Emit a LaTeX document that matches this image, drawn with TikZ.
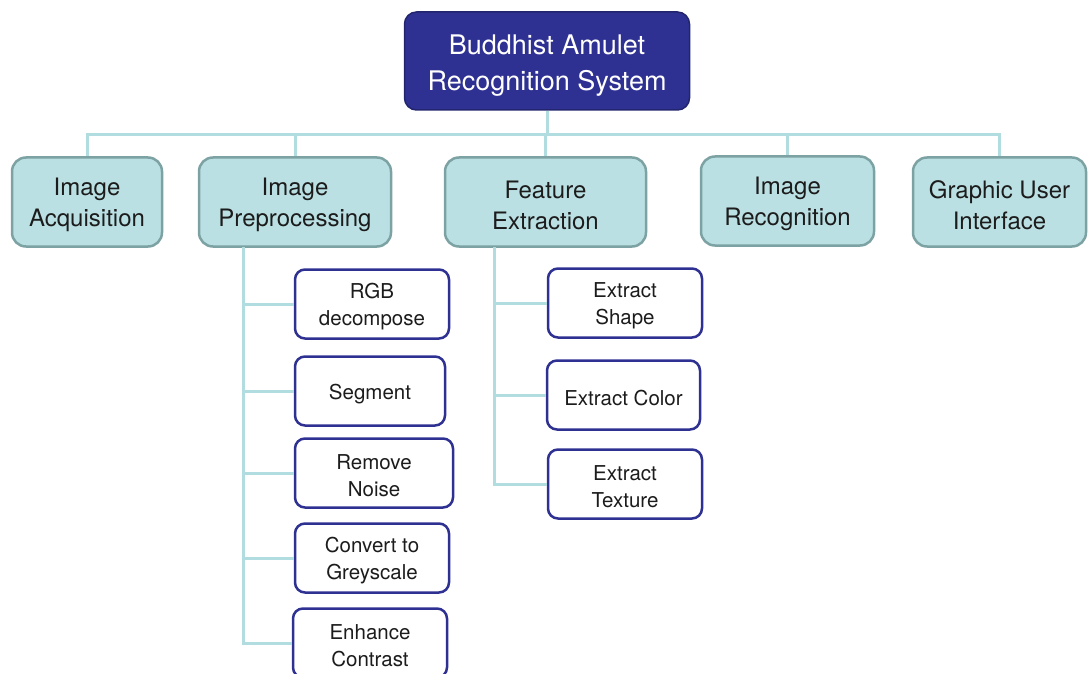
\documentclass[tikz,border=0pt]{standalone}
\usepackage{fontspec}
\setmainfont{TeX Gyre Heros}
\usepackage{tikz}
\usetikzlibrary{positioning}
\definecolor{navy}{RGB}{46, 49, 146}
\definecolor{paleteal}{RGB}{187, 224, 227}
\definecolor{tealedge}{RGB}{124, 162, 164}
\definecolor{linkteal}{RGB}{178, 221, 224}
\definecolor{ink}{RGB}{28, 28, 28}
\tikzset{
    rootbox/.style={rectangle, rounded corners=12pt, minimum width=285pt, minimum height=98pt, align=center, draw=navy!75!black, line width=1.5pt, fill=navy, text=white, font=\fontsize{27}{36}\selectfont, text height=64pt},
    mainbox/.style={rectangle, rounded corners=14pt, minimum height=89pt, align=center, draw=tealedge, line width=2.5pt, fill=paleteal, text=ink, font=\fontsize{24}{31}\selectfont, text height=54.5pt},
    subbox/.style={rectangle, rounded corners=10pt, minimum width=154pt, minimum height=69pt, align=center, draw=navy, line width=2.5pt, fill=white, text=ink, font=\fontsize{20.5}{27}\selectfont, text height=48pt},
    oneline/.style={text height=21pt},
    link/.style={draw=linkteal, line width=3pt},
}
\begin{document}
\begin{tikzpicture}[x=1pt, y=-1pt]
  \useasboundingbox (0,0) rectangle (1088,674);

  \node[rootbox] (root) at (547,61) {Buddhist Amulet\\Recognition System};

  \node[mainbox, minimum width=150pt] (acq)  at (87,202)    {Image\\Acquisition};
  \node[mainbox, minimum width=192pt] (pre)  at (295,202)   {Image\\Preprocessing};
  \node[mainbox, minimum width=201pt] (feat) at (545.5,202) {Feature\\Extraction};
  \node[mainbox, minimum width=173pt] (rec)  at (787.5,201) {Image\\Recognition};
  \node[mainbox, minimum width=173pt] (gui)  at (999.5,202) {Graphic User\\Interface};

  \node[subbox]                               (rgb)   at (372,304) {RGB\\decompose};
  \node[subbox, oneline, minimum width=150pt] (seg)   at (370,391) {Segment};
  \node[subbox, minimum width=158pt]          (noise) at (374,473) {Remove\\Noise};
  \node[subbox]                               (grey)  at (372,558) {Convert to\\Greyscale};
  \node[subbox]                               (enh)   at (370,643) {Enhance\\Contrast};

  \node[subbox]                               (shape)   at (625,303)   {Extract\\Shape};
  \node[subbox, oneline, minimum width=153pt] (color)   at (623.5,395) {Extract Color};
  \node[subbox]                               (texture) at (625,484)   {Extract\\Texture};

  % top level bus
  \coordinate (bus) at (547,135);
  \draw[link] (root) -- (bus);
  \foreach \n in {acq, pre, feat, rec, gui}
    \draw[link] (bus) -| (\n);

  % preprocessing steps
  \coordinate (prespine) at (243,247);
  \foreach \n in {rgb, seg, noise, grey, enh}
    \draw[link] (prespine) |- (\n);

  % feature steps
  \coordinate (featspine) at (494,247);
  \foreach \n in {shape, color, texture}
    \draw[link] (featspine) |- (\n);
\end{tikzpicture}
\end{document}
